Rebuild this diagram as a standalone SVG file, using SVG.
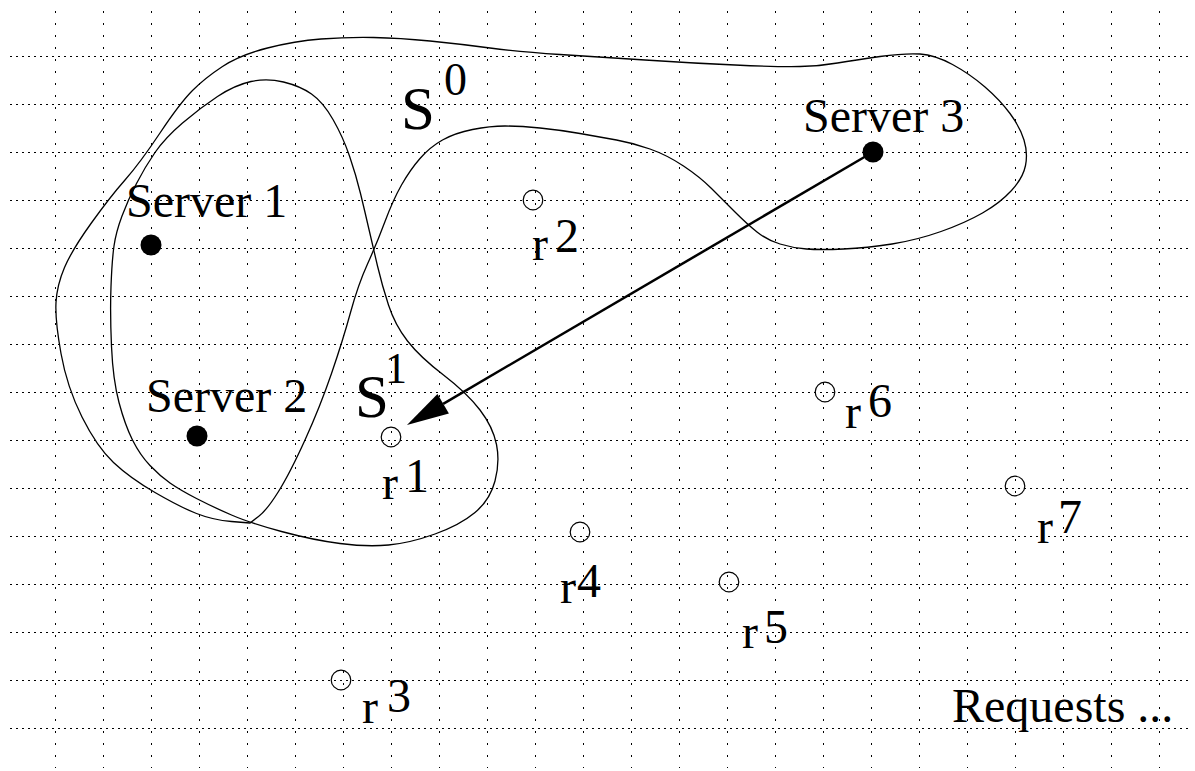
<svg xmlns="http://www.w3.org/2000/svg" width="1195" height="771" viewBox="0 0 1195 771">
<style>
.grid-h{fill:none;stroke:#000;stroke-width:1;stroke-dasharray:2 4}
.grid-v{fill:none;stroke:#000;stroke-width:1;stroke-dasharray:2 10}
.set{fill:none;stroke:#000;stroke-width:1.3}
.srv{fill:#000}
.req{fill:none;stroke:#000;stroke-width:1.2}
.t{font-family:"Liberation Serif","Times New Roman",serif;font-size:48px;fill:#000}
.big{font-family:"Liberation Serif","Times New Roman",serif;font-size:61px;fill:#000}
.sup{font-family:"Liberation Serif","Times New Roman",serif;font-size:46px;fill:#000}
.arrow{stroke:#000;stroke-width:2.5;fill:none}
</style>
<defs>
<marker id="ah" markerUnits="userSpaceOnUse" markerWidth="50" markerHeight="30" refX="0" refY="0" viewBox="-2 -15 50 30" orient="auto" overflow="visible">
<path d="M0,-11.3 L42,0 L0,11.3 z" fill="#000"/>
</marker>
</defs>
<rect x="0" y="0" width="1195" height="771" fill="#fff"/>
<g id="grid" shape-rendering="crispEdges">
<path class="grid-h" d="M10,56.5H1188M10,104.5H1188M10,152.5H1188M10,200.5H1188M10,248.5H1188M10,296.5H1188M10,344.5H1188M10,392.5H1188M10,440.5H1188M10,488.5H1188M10,536.5H1188M10,584.5H1188M10,632.5H1188M10,680.5H1188M10,728.5H1188"/>
<path class="grid-v" d="M55.5,11V768M103.5,11V768M151.5,11V768M199.5,11V768M247.5,11V768M295.5,11V768M343.5,11V768M391.5,11V768M439.5,11V768M487.5,11V768M535.5,11V768M583.5,11V768M631.5,11V768M679.5,11V768M727.5,11V768M775.5,11V768M823.5,11V768M871.5,11V768M919.5,11V768M967.5,11V768M1015.5,11V768M1063.5,11V768M1111.5,11V768M1159.5,11V768"/>
</g>
<g id="set-s0">
<path class="set" d="M250,523 L231.5,521.5 Q213,520 196.5,513.5 Q180,507 155,492.5 Q130,478 113.5,462.5 Q97,447 82,417 Q67,387 61,353.5 Q55,320 56,302.5 Q57,285 64.5,267.5 Q72,250 91,223.5 Q110,197 125,180 Q140,163 160,133 Q180,103 192.5,90.5 Q205,78 222.5,66.5 Q240,55 267.5,48 Q295,41 321,39 Q347,37 373.5,37.5 Q400,38 430,41 Q460,44 490,48 Q520,52 560,54.5 Q600,57 645,60 Q690,63 735,65 Q780,67 800,66.5 Q820,66 837.5,63 Q855,60 880,56.5 Q905,53 920,54 Q935,55 952.5,64.5 Q970,74 985,87 Q1000,100 1010,113.5 Q1020,127 1024,140 Q1028,153 1025.5,165.5 Q1023,178 1011.5,190.5 Q1000,203 982.5,213 Q965,223 941,231.5 Q917,240 892,244 Q867,248 843.5,249 Q820,250 806.5,249 Q793,248 780,244 Q767,240 757,232 Q747,224 735,212 Q723,200 711.5,188.5 Q700,177 683.5,166 Q667,155 650,149 Q633,143 616.5,140 Q600,137 580,133.5 Q560,130 540,128 Q520,126 505,126 Q490,126 472.5,129.5 Q455,133 442.5,140 Q430,147 420,158.5 Q410,170 401.5,185 Q393,200 385,221.5 Q377,243 367.5,264 Q358,285 350.5,312.5 Q343,340 331.5,373.5 Q320,407 305,440 Q290,473 278.5,491.5 Q267,510 258.5,516.5 L250,523 Z"/>
<text class="big" x="401" y="129">S</text>
<text class="sup" x="444" y="95">0</text>
</g>
<g id="set-s1">
<path class="set" d="M283.5,82 Q300,86 311.5,94 Q323,102 333,119.5 Q343,137 349.5,156 Q356,175 360.5,193.5 Q365,212 369,229.5 Q373,247 377.5,266 Q382,285 388.5,305 Q395,325 407.5,341 Q420,357 443.5,375 Q467,393 480,410 Q493,427 496.5,444.5 Q500,462 495,481 Q490,500 475,512.5 Q460,525 435,534 Q410,543 388.5,545 Q367,547 340,543.5 Q313,540 281.5,531.5 Q250,523 231.5,515 Q213,507 196.5,498.5 Q180,490 170,483 Q160,476 150,465.5 Q140,455 132.5,440 Q125,425 119,402.5 Q113,380 111.5,346.5 Q110,313 111,286.5 Q112,260 114,246 Q116,232 122,216 Q128,200 136.5,183.5 Q145,167 155,152.5 Q165,138 182.5,123 Q200,108 217.5,96.5 Q235,85 251,81.5 Q267,78 283.5,82 Z"/>
<text class="big" x="355" y="417">S</text>
<text class="sup" x="385" y="383" style="font-size:44px">1</text>
</g>
<g id="connectors">
<line class="arrow" x1="873" y1="152" x2="443.2" y2="403.8" marker-end="url(#ah)"/>
</g>
<g id="server1">
<circle class="srv" cx="151" cy="245" r="10.5"/>
<text class="t" x="126" y="217">Server 1</text>
</g>
<g id="server2">
<circle class="srv" cx="197" cy="436" r="10.5"/>
<text class="t" x="146" y="412">Server 2</text>
</g>
<g id="server3">
<circle class="srv" cx="873" cy="152" r="10.5"/>
<text class="t" x="803" y="132">Server 3</text>
</g>
<g id="r1">
<circle class="req" cx="391" cy="437" r="9.8"/>
<text class="t" x="382" y="499">r</text><text class="t" x="405" y="492">1</text>
</g>
<g id="r2">
<circle class="req" cx="533" cy="200" r="9.8"/>
<text class="t" x="532" y="260">r</text><text class="t" x="555" y="252">2</text>
</g>
<g id="r3">
<circle class="req" cx="341" cy="680" r="9.8"/>
<text class="t" x="362" y="723">r</text><text class="t" x="387" y="712">3</text>
</g>
<g id="r4">
<circle class="req" cx="580" cy="532" r="9.8"/>
<text class="t" x="560" y="603">r</text><text class="t" x="577" y="597">4</text>
</g>
<g id="r5">
<circle class="req" cx="729" cy="582" r="9.8"/>
<text class="t" x="742" y="648">r</text><text class="t" x="764" y="643">5</text>
</g>
<g id="r6">
<circle class="req" cx="825" cy="392" r="9.8"/>
<text class="t" x="845" y="428">r</text><text class="t" x="868" y="417">6</text>
</g>
<g id="r7">
<circle class="req" cx="1015" cy="486" r="9.8"/>
<text class="t" x="1037" y="543">r</text><text class="t" x="1058" y="533">7</text>
</g>
<g id="requests-label">
<text class="t" x="952" y="722">Requests ...</text>
</g>
</svg>
